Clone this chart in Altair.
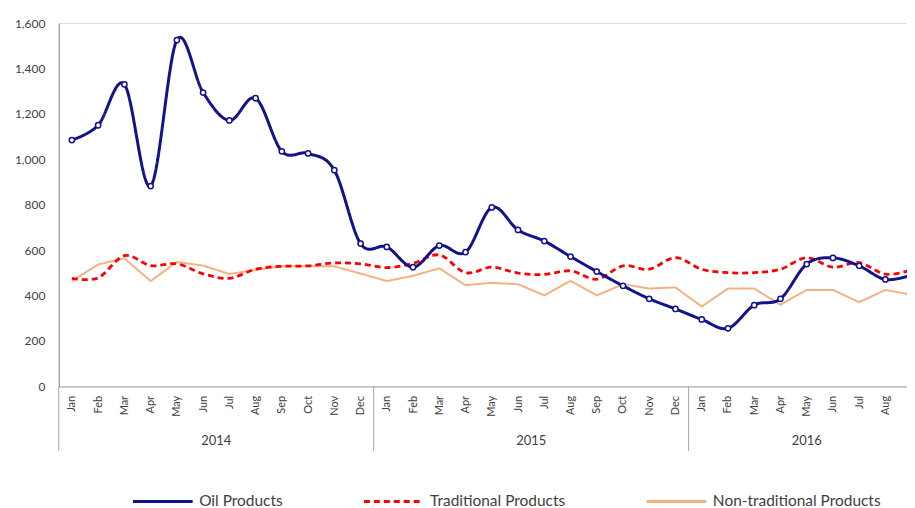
import altair as alt
import pandas as pd

MONTHS = ["Jan", "Feb", "Mar", "Apr", "May", "Jun", "Jul", "Aug", "Sep", "Oct", "Nov", "Dec"]
YEARS = ["2014", "2015", "2016"]
MONTHS_SHOWN = [12, 12, 9]
SERIES = ["Oil Products", "Traditional Products", "Non-traditional Products"]

OIL = [1085, 1150, 1330, 882, 1525, 1294, 1171, 1269, 1035, 1026, 952, 629,
       614, 525, 620, 591, 788, 689, 640, 572, 506, 443, 386, 341,
       295, 256, 358, 386, 539, 566, 531, 471, 491]
TRAD = [476, 478, 576, 532, 540, 496, 476, 516, 529, 531, 544, 540,
        523, 542, 579, 501, 525, 499, 493, 509, 472, 531, 516, 567,
        516, 501, 501, 516, 567, 525, 545, 494, 513]
NONTRAD = [464, 537, 564, 464, 548, 532, 495, 513, 529, 529, 529, 497,
           464, 487, 520, 446, 456, 450, 401, 465, 401, 450, 431, 436,
           352, 431, 431, 360, 425, 425, 371, 425, 403]

COLORS = ["#12128a", "#ff0000", "#f4b183"]
DASHES = [[1, 0], [6, 4], [1, 0]]

# periods and year groups
rows = []
i = 0
sep_rows = []
year_rows = []
for yr, n in zip(YEARS, MONTHS_SHOWN):
    start = i
    for m in MONTHS[:n]:
        rows.append({"pos": i + 0.5, "month": m, "year": yr})
        i += 1
    sep_rows.append({"pos": start})
    year_rows.append({"pos": (start + i) / 2, "year": yr})
periods = pd.DataFrame(rows)
seps_df = pd.DataFrame(sep_rows)
years_df = pd.DataFrame(year_rows)

long_rows = []
for name, vals in zip(SERIES, [OIL, TRAD, NONTRAD]):
    for p, v in zip(periods["pos"], vals):
        long_rows.append({"pos": p, "value": v, "series": name})
df = pd.DataFrame(long_rows)

PLOT_W = 852
XMAX = PLOT_W / 26.36
PLOT_H = 365
FONT = "Lato"

month_expr = "[" + ",".join("'%s'" % m for m in MONTHS) + "][floor(datum.value) % 12]"

x_scale = alt.Scale(domain=[0, XMAX], nice=False, zero=False)
x_axis = alt.Axis(
    values=[p + 0.5 for p in range(33)],
    labelExpr=month_expr,
    labelAngle=270,
    labelAlign="right",
    labelBaseline="middle",
    labelPadding=9,
    labelFontSize=11,
    labelColor="#404040",
    labelFont=FONT,
    ticks=False,
    grid=False,
    domainColor="#a6a6a6",
    labelOverlap=False,
    labelFlush=False,
    title=None,
)
x_enc = alt.X("pos:Q", scale=x_scale, axis=x_axis)
y_enc = alt.Y(
    "value:Q",
    scale=alt.Scale(domain=[0, 1600], nice=False),
    axis=alt.Axis(
        values=list(range(0, 1601, 200)),
        format=",.0f",
        grid=False,
        ticks=False,
        domainColor="#8c8c8c",
        labelPadding=14,
        labelFontSize=12,
        labelColor="#404040",
        labelFont=FONT,
        minExtent=51,
        maxExtent=51,
        title=None,
    ),
)

legend = alt.Legend(
    title=None,
    orient="none",
    legendX=73,
    legendY=449,
    direction="horizontal",
    symbolType="stroke",
    symbolSize=3600,
    symbolStrokeWidth=3,
    labelFont=FONT,
    labelFontSize=15.5,
    labelColor="#404040",
    labelOffset=5,
    columnPadding=75,
    labelLimit=300,
)
color_enc = alt.Color("series:N", scale=alt.Scale(domain=SERIES, range=COLORS), legend=legend, sort=SERIES)
dash_enc = alt.StrokeDash("series:N", scale=alt.Scale(domain=SERIES, range=DASHES), legend=legend, sort=SERIES)

base = alt.Chart(df)

nontrad_line = base.transform_filter(alt.datum.series == SERIES[2]).mark_line(
    strokeWidth=2, clip=True
).encode(x=x_enc, y=y_enc, color=color_enc, strokeDash=dash_enc)

trad_line = base.transform_filter(alt.datum.series == SERIES[1]).mark_line(
    strokeWidth=2.8, interpolate="cardinal", clip=True
).encode(x=x_enc, y=y_enc, color=color_enc, strokeDash=dash_enc)

oil_line = base.transform_filter(alt.datum.series == SERIES[0]).mark_line(
    strokeWidth=3, interpolate="cardinal", clip=True
).encode(x=x_enc, y=y_enc, color=color_enc, strokeDash=dash_enc)

oil_pts = base.transform_filter(alt.datum.series == SERIES[0]).mark_point(
    shape="circle", filled=True, fill="white", stroke=COLORS[0], strokeWidth=1.5,
    size=28, opacity=1, clip=True
).encode(x=x_enc, y=y_enc)

seps = alt.Chart(seps_df).mark_rule(color="#a6a6a6", strokeWidth=1).encode(
    x=x_enc, y=alt.value(PLOT_H), y2=alt.value(PLOT_H + 65)
)
year_text = alt.Chart(years_df).mark_text(
    font=FONT, fontSize=13, color="#404040", baseline="middle"
).encode(x=x_enc, y=alt.value(PLOT_H + 55), text="year:N")

chart = alt.layer(nontrad_line, trad_line, oil_line, oil_pts, seps, year_text).properties(
    width=PLOT_W, height=PLOT_H,
    padding={"left": 0, "top": 8, "right": 0, "bottom": 0},
).configure_view(stroke=None).configure(background="white").configure_axisX(labelOverlap=False)

chart.save("out.html", embed_options={"renderer": "svg", "actions": False})
